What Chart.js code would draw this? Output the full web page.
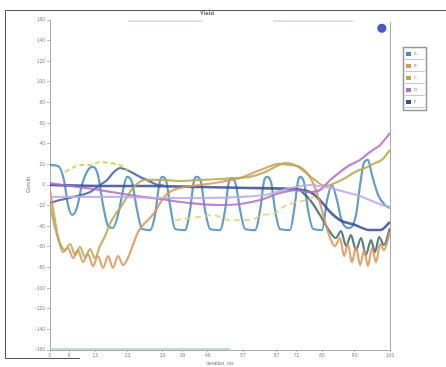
<!DOCTYPE html>
<html>
<head>
<meta charset="utf-8">
<script src="https://cdn.jsdelivr.net/npm/chart.js@4/dist/chart.umd.min.js"></script>
<style>
html,body{margin:0;padding:0;background:#fff;}
#wrap{width:446px;height:367px;position:relative;}
</style>
</head>
<body>
<div id="wrap"><canvas id="c" width="446" height="367"></canvas></div>
<script>
// ---------- data ----------
const chartTitle = "Yield";
const xTitle = "Iteration, ms";
const yTitle = "Growth";
const xTickValues = [0, 5.6, 13.3, 22.8, 33.1, 39, 46.4, 56.8, 66.6, 72.5, 80, 89.6, 100];
const xTickLabels = ["0", "6", "13", "23", "33", "39", "46", "57", "67", "72", "80", "90", "100"];
const yTickValues = [-160,-140,-120,-100,-80,-60,-40,-20,0,20,40,60,80,100,120,140,160];

const waveX = [0,2.4,4.1,5.3,6.5,7.9,9.4,11.2,12.6,14.1,15.6,17.1,18.5,20,21.5,22.6,24.1,25.6,27.1,29.4,30.9,32.1,32.9,34.1,35.3,36.8,39.7,41.2,42.4,43.2,44.4,45.6,47.1,50,51.5,52.6,53.5,54.7,55.9,57.4,60.3,61.8,62.9,63.8,65,66.2,67.6,70.6,71.8,72.9,73.5,74.7,75.9,77.4,80,81.5,82.9,84.4,85.9,88.2,90,91.2,92.4,93.5,94.7,96.5,98.5,100];
const waveY = [19.4,18.4,4.9,-19.4,-29.1,-22.3,0,14.6,17.5,9.7,-19.4,-39.8,-41.7,-29.1,-4.9,7.8,2.9,-24.3,-42.7,-43.7,-29.1,0,7.8,4.9,-19.4,-42.7,-43.7,-24.3,4.9,7.8,2.9,-24.3,-42.7,-43.7,-24.3,2.9,6.8,0,-24.3,-42.7,-43.7,-24.3,2.9,7.8,2.9,-24.3,-42.7,-43.7,-24.3,2.9,7.8,2.9,-24.3,-42.7,-43.7,-14.6,0,-14.6,-35.9,-41.7,-29.1,0,22.3,24.3,9.7,-9.7,-19.4,-22.3];

const amberX = [0,1.2,2.4,3.8,5.3,6.8,8.2,9.7,11.2,12.6,14.1,15.6,17.1,18.5,20,21.5,22.9,24.4,25.9,27.6,29.4,31.2,32.9,34.7,38.2,44.1,50,55.9,60.3,64.1,67.1,70.6,73.5,75.6,77.4,79.4,80.9,82.4,83.8,85.3,86.5,87.6,88.8,90,91.2,92.4,93.5,94.7,95.9,97.1,98.2,100];
const amberY = [-4.9,-29.1,-51.4,-65,-61.1,-70.8,-63.1,-74.7,-66.9,-78.6,-68.9,-80.5,-68.9,-80.5,-68.9,-77.6,-70.8,-58.2,-45.6,-37.8,-32,-24.3,-14.6,-7.8,-2.9,0,2.9,6.8,12.6,17.5,20.4,19.4,17.5,11.6,1.9,-17.5,-35.9,-51.4,-59.2,-51.4,-68.9,-57.2,-74.7,-60.1,-77.6,-63.1,-78.6,-61.1,-74.7,-57.2,-63.1,-45.6];

const oliveX = [0,1.5,2.9,4.4,5.9,7.4,8.8,10.3,11.8,13.2,14.7,16.2,17.6,19.1,20.6,22.1,23.5,25.6,27.9,32.4,38.2,44.1,50,54.4,58.8,62.6,66.2,69.1,72.1,75,77.9,80.9,83.8,86.8,89.7,92.6,95.6,97.6,100];
const oliveY = [-19.4,-41.7,-56.3,-63.1,-57.2,-67.9,-60.1,-69.8,-62.1,-70.8,-59.2,-49.5,-37.8,-29.1,-22.3,-14.6,-6.8,1,4.9,4.9,3.9,4.9,5.8,6.8,7.8,11.6,17.5,21.3,19.4,12.6,4.9,-1,1.9,6.8,12.6,16.5,21.3,24.3,34];

const violetX = [0,5.9,14.7,23.5,32.4,41.2,50,55.9,61.8,67.6,72.1,76.5,79.4,82.4,85.3,88.2,91.2,94.1,97.1,100];
const violetY = [1.9,-1,-4.9,-9.7,-13.6,-17.5,-19.4,-18.4,-14.6,-7.8,-4.9,-6.8,-4.9,4.9,12.6,19.4,24.3,32,38.8,50.4];

const lilacX = [0,8.8,20.6,32.4,44.1,55.9,64.7,70.6,76.5,82.4,86.8,91.2,94.7,97.6,100];
const lilacY = [-11.6,-11.6,-11.6,-12.6,-12.6,-11.6,-8.7,-2.9,0,-2.9,-6.8,-10.7,-15.5,-19.4,-21.3];

const navyX = [0,14.7,29.4,44.1,58.8,70.6,76.5,79.4,82.4,85.3,89.7,94.1,97.1,100];
const navyY = [0,-1,-1,-1.9,-2.9,-3.9,-6.8,-14.6,-26.2,-34,-38.8,-43.7,-43.7,-35.9];

const cobaltX = [0,2.9,6.8,11.8,14.7,16.8,18.8,20.6,22.6,24.4,26.5,28.5,30.9,33.8];
const cobaltY = [-17.5,-14.6,-11.6,-6.8,0,4.9,12.6,16.5,14.6,11.6,7.8,4.9,1,-1];

const limeX = [4.4,6.5,8.8,11.8,14.7,17.6,20.6,22.9];
const limeY = [12.6,16.5,19.4,19.4,22.3,21.3,19.4,14.6];

const sandX = [36.8,41.2,44.1,47.9,52.9,58.8,62.6,66.8,68.5,72.6,75.6,77.9];
const sandY = [-34,-32,-31,-29.1,-34,-34,-29.1,-26.2,-21.3,-16.5,-14.6,-10.7];

const tealX = [73.5,76.5,79.4,82.4,84.1,85.6,87.1,88.5,90,91.5,92.9,94.4,95.6,96.8,98.2,100];
const tealY = [-4.9,-14.6,-29.1,-45.6,-51.4,-44.6,-59.2,-48.5,-63.1,-51.4,-68,-53.4,-65,-50.4,-58.2,-41.7];

const ceilX = [22.9,45,null,65.6,89.1];
const ceilY = [159,159,null,159,159];
const floorX = [0,18,35,53];
const floorY = [-159,-159,-159,-159];
const markX = [97.6];
const markY = [152];

const legendNames = ["A", "B", "C", "D", "E"];

// ---------- build ----------
function pts(xs, ys){ return xs.map((x,i)=> x===null ? {x:NaN,y:null} : ({x:x, y:ys[i]})); }

function ds(label, xs, ys, color, extra){
  return Object.assign({
    label: label, data: pts(xs, ys), borderColor: color, backgroundColor: color,
    borderWidth: 2.2, pointRadius: 0, tension: 0.4, cubicInterpolationMode: 'monotone', fill: false
  }, extra || {});
}

const datasets = [
  ds('floor', floorX, floorY, 'rgba(150,200,180,0.8)', {borderWidth:1.5}),
  ds('ceil', ceilX, ceilY, 'rgba(170,180,200,0.8)', {borderWidth:1, spanGaps:false}),
  ds('sand', sandX, sandY, 'rgba(225,205,120,0.85)', {borderDash:[6,4], borderWidth:1.8}),
  ds('lilac', lilacX, lilacY, 'rgba(190,170,225,0.85)'),
  ds('violet', violetX, violetY, 'rgba(175,110,200,0.85)'),
  ds('olive', oliveX, oliveY, 'rgba(180,170,80,0.85)'),
  ds('amber', amberX, amberY, 'rgba(215,150,95,0.85)'),
  ds('teal', tealX, tealY, 'rgba(60,105,105,0.85)'),
  ds('lime', limeX, limeY, 'rgba(205,215,100,0.9)', {borderDash:[5,3]}),
  ds('cobalt', cobaltX, cobaltY, 'rgba(70,95,165,0.85)'),
  ds('navy', navyX, navyY, 'rgba(55,75,150,0.85)', {borderWidth:2.6}),
  ds('wave', waveX, waveY, 'rgba(75,140,190,0.85)'),
  ds('mark', markX, markY, 'rgba(70,90,200,1)', {pointRadius:3.5, showLine:false})
];

const legendColors = ['rgba(75,140,190,1)','rgba(215,150,95,1)','rgba(180,170,80,1)','rgba(175,110,200,1)','rgba(55,75,150,1)'];

const decor = {
  id: 'decor',
  beforeDraw(chart){
    const ctx = chart.ctx;
    ctx.save(); ctx.fillStyle = '#fff'; ctx.fillRect(0,0,chart.width,chart.height); ctx.restore();
  },
  afterDraw(chart){
    const ctx = chart.ctx, a = chart.chartArea;
    ctx.save();
    // outer frame
    ctx.strokeStyle = '#555'; ctx.lineWidth = 1;
    ctx.beginPath();
    ctx.moveTo(5.5, 358.5); ctx.lineTo(5.5, 10.5); ctx.lineTo(446, 10.5);
    ctx.moveTo(5.5, 358.5); ctx.lineTo(80, 358.5);
    ctx.stroke();
    // right axis line
    ctx.strokeStyle = '#aaa';
    ctx.beginPath(); ctx.moveTo(Math.round(a.right)+0.5, a.top+2); ctx.lineTo(Math.round(a.right)+0.5, a.bottom); ctx.stroke();
    // title
    ctx.fillStyle = '#666'; ctx.font = 'bold 5px "DejaVu Sans"'; ctx.textAlign = 'center'; ctx.textBaseline = 'middle';
    ctx.fillText(chartTitle, 207, 14);
    // legend
    const lx = 403, ly = 47, lw = 23, lh = 63;
    ctx.strokeStyle = '#999'; ctx.lineWidth = 1.5;
    ctx.strokeRect(lx+0.5, ly+0.5, lw, lh);
    ctx.font = '4px "DejaVu Sans"'; ctx.textAlign = 'left';
    legendNames.forEach((n,i)=>{
      const y = ly + 7 + i*12;
      ctx.fillStyle = legendColors[i];
      ctx.fillRect(lx+3, y-2, 5, 4);
      ctx.fillStyle = '#888';
      ctx.fillText(n, lx+11, y);
      ctx.strokeStyle = '#bbb'; ctx.lineWidth = 0.8;
      ctx.beginPath(); ctx.moveTo(lx+2, y+5.5); ctx.lineTo(lx+lw-1, y+5.5); ctx.stroke();
    });
    ctx.restore();
  }
};

new Chart(document.getElementById('c'), {
  type: 'line',
  data: { datasets: datasets },
  plugins: [decor],
  options: {
    responsive: false, animation: false, devicePixelRatio: 1,
    layout: { padding: { left: 10, right: 56, top: 20, bottom: 0 } },
    plugins: { legend: { display: false }, title: { display: false }, tooltip: { enabled: false } },
    scales: {
      x: {
        type: 'linear', min: 0, max: 100,
        afterFit(s){ s.height = 17; },
        afterBuildTicks(s){ s.ticks = xTickValues.map(v=>({value:v})); },
        ticks: { font: { size: 5 }, color: '#888', padding: 1, maxRotation: 0, autoSkip: false,
                 callback: (v, i) => xTickLabels[i] },
        grid: { drawOnChartArea: false, drawTicks: true, tickLength: 2, color: '#bbb' },
        border: { display: true, color: '#aaa' },
        title: { display: true, text: xTitle, font: { size: 5 }, color: '#777', padding: { top: 1, bottom: 0 } }
      },
      y: {
        type: 'linear', min: -160, max: 160,
        afterFit(s){ s.width = 40; },
        afterBuildTicks(s){ s.ticks = yTickValues.map(v=>({value:v})); },
        ticks: { font: { size: 5 }, color: '#888', padding: 2, autoSkip: false },
        grid: { drawOnChartArea: false, drawTicks: true, tickLength: 3, color: '#bbb' },
        border: { display: true, color: '#aaa' },
        title: { display: true, text: yTitle, font: { size: 5 }, color: '#777', padding: { top: 16, bottom: 0 } }
      }
    }
  }
});
</script>
</body>
</html>
